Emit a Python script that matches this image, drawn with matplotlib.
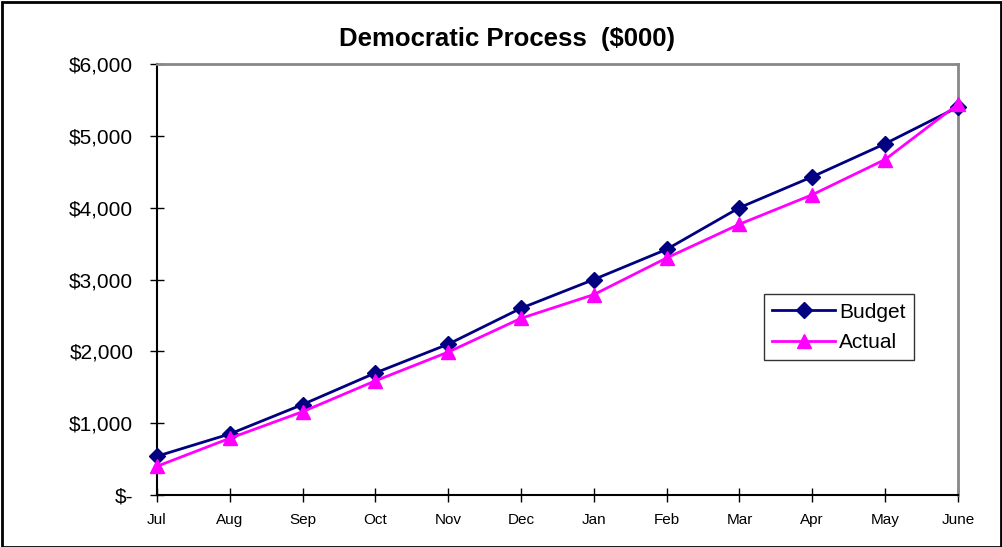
import matplotlib
matplotlib.use("Agg")
import matplotlib.pyplot as plt
from matplotlib.patches import Rectangle
from matplotlib.ticker import FuncFormatter

months = ["Jul", "Aug", "Sep", "Oct", "Nov", "Dec", "Jan", "Feb", "Mar", "Apr", "May", "June"]
budget = [540, 850, 1260, 1700, 2100, 2600, 3000, 3420, 4000, 4430, 4890, 5400]
actual = [400, 790, 1160, 1590, 1990, 2460, 2790, 3300, 3770, 4180, 4670, 5440]

plt.rcParams['font.family'] = ['Liberation Sans', 'DejaVu Sans']

fig = plt.figure(figsize=(10.03, 5.47), dpi=100)
ax = fig.add_axes([0.1565, 0.095, 0.7985, 0.788])

x = list(range(len(months)))
ax.plot(x, budget, color="#000080", marker="D", markersize=8, linewidth=2, label="Budget", clip_on=False, zorder=3)
ax.plot(x, actual, color="#FF00FF", marker="^", markersize=10, linewidth=2, label="Actual", clip_on=False, zorder=4)

ax.set_xlim(0, len(months) - 1)
ax.set_ylim(0, 6000)
ax.set_yticks(range(0, 6001, 1000))
ax.yaxis.set_major_formatter(FuncFormatter(lambda v, p: "$-" if v == 0 else "${:,.0f}".format(v)))
ax.set_xticks(x)
ax.set_xticklabels(months)

ax.tick_params(axis="y", direction="inout", length=10, width=1, labelsize=15, pad=12)
ax.tick_params(axis="x", direction="inout", length=10, width=1, labelsize=11, pad=8)

for s in ["left", "bottom"]:
    ax.spines[s].set_color("black")
    ax.spines[s].set_linewidth(1.5)
for s in ["top", "right"]:
    ax.spines[s].set_color("#888888")
    ax.spines[s].set_linewidth(2)

fig.text(0.505, 0.928, "Democratic Process  ($000)", fontsize=18.5, fontweight="bold",
         ha="center", va="center")

leg = ax.legend(loc="upper left", bbox_to_anchor=(0.745, 0.49), fontsize=15, frameon=True,
                fancybox=False, handlelength=3, borderpad=0.4, labelspacing=0.55, handletextpad=0.2)
leg.get_frame().set_edgecolor("black")
leg.get_frame().set_linewidth(1)

fig.patches.append(Rectangle((0.002, 0.0), 0.996, 0.996, transform=fig.transFigure,
                             fill=False, edgecolor="black", linewidth=2))

fig.savefig("out.png", dpi=100)
